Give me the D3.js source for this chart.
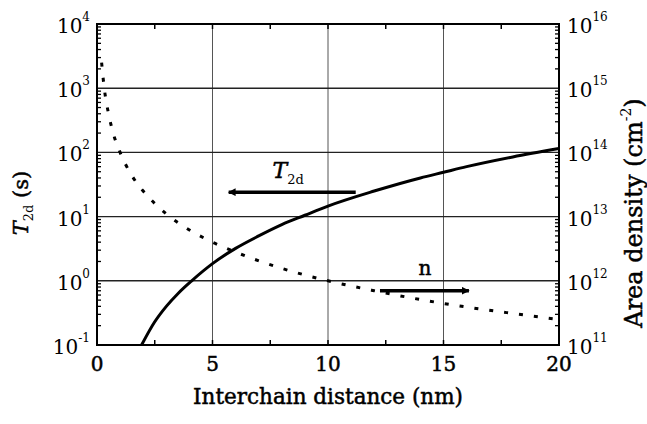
<!DOCTYPE html>
<html>
<head>
<meta charset="utf-8">
<script src="https://cdn.jsdelivr.net/npm/d3@7"></script>
<style>
  body { margin: 0; background: #fff; }
  svg text { font-family: "DejaVu Serif", serif; fill: #000; }
  svg text.heavy { stroke: #000; stroke-width: 0.5px; }
</style>
</head>
<body>
<svg id="chart" width="647" height="424"></svg>
<script>
// values
var t2dDist = [1.93, 2.5, 3, 3.5, 4.1, 5, 6, 7, 8, 9, 10, 12, 14, 15, 16, 18, 20];
var t2dTime = [0.1, 0.23, 0.4, 0.63, 1.0, 1.85, 3.2, 5.0, 7.5, 10.5, 14.6, 25, 40, 49, 60, 85, 115];

var nDist = [0.2, 0.3, 0.5, 0.7, 1, 1.5, 2, 2.5, 3, 4, 5, 6, 8, 10, 12, 14, 16, 18, 20];
var nDens = [2.5e15, 1.1e15, 4e14, 2e14, 1e14, 4.4e13, 2.5e13, 1.6e13, 1.1e13, 6.2e12, 4e12, 2.8e12, 1.56e12, 1e12, 7e11, 5.1e11, 3.9e11, 3.1e11, 2.5e11];

var xTicks = [0, 5, 10, 15, 20];
var xMinor = [2.5, 7.5, 12.5, 17.5];
var leftExps = [-1, 0, 1, 2, 3, 4];
var rightExps = [11, 12, 13, 14, 15, 16];

var W = 647, H = 424;
var margin = {top: 24, right: 88, bottom: 79, left: 97};
var iw = W - margin.left - margin.right;
var ih = H - margin.top - margin.bottom;

var svg = d3.select('#chart');
var g = svg.append('g').attr('transform', 'translate(' + margin.left + ',' + margin.top + ')');

var x = d3.scaleLinear().domain([0, 20]).range([0, iw]);
var yL = d3.scaleLog().domain([0.1, 1e4]).range([ih, 0]);
var yR = d3.scaleLog().domain([1e11, 1e16]).range([ih, 0]);

// grid
g.selectAll('.vgrid').data([5, 10, 15]).enter().append('line')
    .attr('x1', function(d) { return x(d); }).attr('x2', function(d) { return x(d); })
    .attr('y1', 0).attr('y2', ih)
    .attr('stroke', '#555').attr('stroke-width', 1);
g.selectAll('.hgrid').data([1, 10, 100, 1000]).enter().append('line')
    .attr('x1', 0).attr('x2', iw)
    .attr('y1', function(d) { return yL(d); }).attr('y2', function(d) { return yL(d); })
    .attr('stroke', '#222').attr('stroke-width', 1.4);

// minor log ticks on left and right, pointing inward
var minorL = [];
leftExps.slice(0, -1).forEach(function(e) {
    for (var m = 2; m <= 9; m++) minorL.push(m * Math.pow(10, e));
});
var tickL = 4;
g.selectAll('.lmin').data(minorL).enter().append('line')
    .attr('x1', 0).attr('x2', tickL)
    .attr('y1', function(d) { return yL(d); }).attr('y2', function(d) { return yL(d); })
    .attr('stroke', '#000').attr('stroke-width', 1.3);
var minorR = [];
rightExps.slice(0, -1).forEach(function(e) {
    for (var m = 2; m <= 9; m++) minorR.push(m * Math.pow(10, e));
});
g.selectAll('.rmin').data(minorR).enter().append('line')
    .attr('x1', iw - tickL).attr('x2', iw)
    .attr('y1', function(d) { return yR(d); }).attr('y2', function(d) { return yR(d); })
    .attr('stroke', '#000').attr('stroke-width', 1.3);

// x ticks top and bottom
[0, ih].forEach(function(yy) {
    var dir = yy === 0 ? 1 : -1;
    g.selectAll(null).data(xMinor.concat(xTicks)).enter().append('line')
        .attr('x1', function(d) { return x(d); }).attr('x2', function(d) { return x(d); })
        .attr('y1', yy).attr('y2', yy + dir * 5)
        .attr('stroke', '#000').attr('stroke-width', 1.5);
});

// frame
g.append('rect').attr('x', 0).attr('y', 0).attr('width', iw).attr('height', ih)
    .attr('fill', 'none').attr('stroke', '#000').attr('stroke-width', 2);

// curves
var tLine = d3.line()
    .x(function(d) { return x(d[0]); })
    .y(function(d) { return yL(d[1]); })
    .curve(d3.curveMonotoneX);
g.append('path')
    .datum(d3.zip(t2dDist, t2dTime))
    .attr('d', tLine)
    .attr('fill', 'none').attr('stroke', '#000').attr('stroke-width', 3);

var nLine = d3.line()
    .x(function(d) { return x(d[0]); })
    .y(function(d) { return yR(d[1]); })
    .curve(d3.curveMonotoneX);
g.append('path')
    .datum(d3.zip(nDist, nDens))
    .attr('d', nLine)
    .attr('fill', 'none').attr('stroke', '#000').attr('stroke-width', 3)
    .attr('stroke-dasharray', '4,11');

// arrows
var defs = svg.append('defs');
defs.append('marker').attr('id', 'head')
    .attr('viewBox', '0 0 10 10').attr('refX', 9).attr('refY', 5)
    .attr('markerWidth', 3.4).attr('markerHeight', 2.2).attr('orient', 'auto')
    .attr('markerUnits', 'strokeWidth')
    .append('path').attr('d', 'M0,0L10,5L0,10Z').attr('fill', '#000');

g.append('line')
    .attr('x1', x(11.2)).attr('x2', x(5.7))
    .attr('y1', yL(24)).attr('y2', yL(24))
    .attr('stroke', '#000').attr('stroke-width', 3.5)
    .attr('marker-end', 'url(#head)');
g.append('line')
    .attr('x1', x(12.25)).attr('x2', x(16.1))
    .attr('y1', yR(7e11)).attr('y2', yR(7e11))
    .attr('stroke', '#000').attr('stroke-width', 3.5)
    .attr('marker-end', 'url(#head)');

var tl = g.append('text').attr('class', 'heavy').attr('x', x(7.6)).attr('y', yL(40))
    .attr('font-size', 22);
tl.append('tspan').attr('font-style', 'italic').text('T');
tl.append('tspan').attr('font-size', 13).attr('stroke-width', 0).attr('dy', 6).text('2d');

g.append('text').attr('class', 'heavy').attr('x', x(14.2)).attr('y', yR(1.23e12))
    .attr('text-anchor', 'middle').attr('font-size', 20).text('n');

// tick labels
g.selectAll('.xl').data(xTicks).enter().append('text')
    .attr('class', 'heavy')
    .attr('x', function(d) { return x(d); }).attr('y', ih + 26)
    .attr('text-anchor', 'middle').attr('font-size', 20)
    .text(function(d) { return d; });

function powLabel(sel, exps, scale, xPos, anchor) {
    var t = sel.data(exps).enter().append('text')
        .attr('x', xPos).attr('y', function(e) { return scale(Math.pow(10, e)) + 9; })
        .attr('text-anchor', anchor).attr('font-size', 20);
    t.append('tspan').attr('class', 'heavy').text('10');
    t.append('tspan').attr('font-size', 12).attr('dy', -12)
        .text(function(e) { return e < 0 ? '-' + (-e) : e; });
}
powLabel(g.selectAll('.ll'), leftExps, yL, -7, 'end');
powLabel(g.selectAll('.rl'), rightExps, yR, iw + 8, 'start');

// axis titles
svg.append('text').attr('class', 'heavy').attr('x', margin.left + iw / 2).attr('y', 404)
    .attr('text-anchor', 'middle').attr('font-size', 21.5)
    .text('Interchain distance (nm)');

var yt = svg.append('text').attr('class', 'heavy')
    .attr('transform', 'translate(28,203) rotate(-90)')
    .attr('text-anchor', 'middle').attr('font-size', 21);
yt.append('tspan').attr('font-style', 'italic').text('T');
yt.append('tspan').attr('font-size', 13).attr('stroke-width', 0).attr('dy', 5).text('2d');
yt.append('tspan').attr('dy', -5).text(' (s)');

var rt = svg.append('text').attr('class', 'heavy')
    .attr('transform', 'translate(642,213) rotate(-90)')
    .attr('text-anchor', 'middle').attr('font-size', 24);
rt.append('tspan').text('Area density (cm');
rt.append('tspan').attr('font-size', 14).attr('stroke-width', 0).attr('dy', -11).text('-2');
rt.append('tspan').attr('dy', 11).text(')');
</script>
</body>
</html>
